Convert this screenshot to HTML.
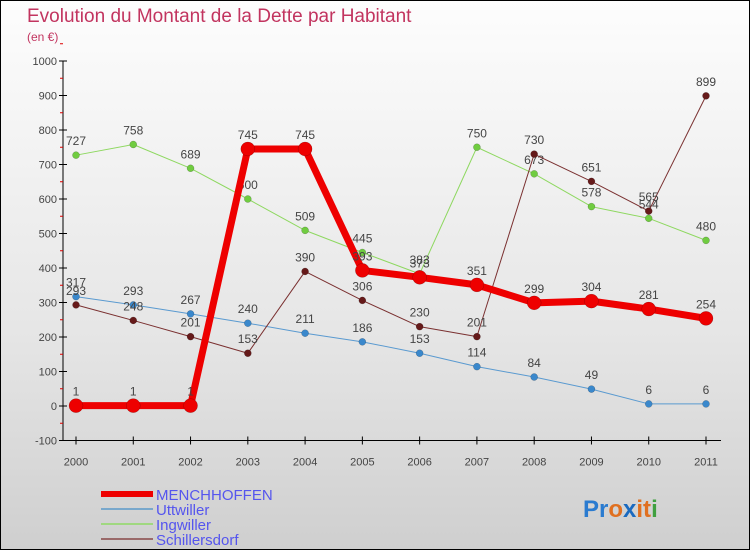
<!DOCTYPE html>
<html><head><meta charset="utf-8"><style>
body{margin:0}
#c{width:750px;height:550px;position:relative;overflow:hidden;box-sizing:border-box;border:1px solid #000;background:linear-gradient(#fdfdfd,#e6e6e6 60%,#cfcfcf);font-family:"Liberation Sans",sans-serif}
</style></head><body>
<div id="c">
<svg id="s" width="750" height="550" style="position:absolute;left:0;top:0">
<text x="26" y="21" font-size="19" fill="#c2345f">Evolution du Montant de la Dette par Habitant</text>
<text x="26" y="40" font-size="12" fill="#c2345f">(en €)</text>
<g id="ax"></g><g id="ser"></g>
<g>
<line x1="100" y1="493" x2="152" y2="493" stroke="#ee0000" stroke-width="6"/>
<text x="155" y="499" font-size="15" fill="#5555ee">MENCHHOFFEN</text>
<line x1="100" y1="508" x2="152" y2="508" stroke="#79a8cc" stroke-width="2"/>
<text x="155" y="514" font-size="15" fill="#5555ee">Uttwiller</text>
<line x1="100" y1="523" x2="152" y2="523" stroke="#a0d880" stroke-width="2"/>
<text x="155" y="529" font-size="15" fill="#5555ee">Ingwiller</text>
<line x1="100" y1="538" x2="152" y2="538" stroke="#9a6a6a" stroke-width="2"/>
<text x="155" y="544" font-size="15" fill="#5555ee">Schillersdorf</text>
</g>
<text x="582" y="516" font-size="24" font-weight="bold"><tspan fill="#2a7bd0">Pr</tspan><tspan fill="#e07020">o</tspan><tspan fill="#1a6ac0">x</tspan><tspan fill="#e07020">it</tspan><tspan fill="#40a040">i</tspan></text>
</svg>
</div>
<script>
const years=["2000","2001","2002","2003","2004","2005","2006","2007","2008","2009","2010","2011"];
const yTicks=[-100,0,100,200,300,400,500,600,700,800,900,1000];
const menchhoffen=[1,1,1,745,745,393,373,351,299,304,281,254];
const uttwiller=[317,293,267,240,211,186,153,114,84,49,6,6];
const ingwiller=[727,758,689,600,509,445,383,750,673,578,544,480];
const schillersdorf=[293,248,201,153,390,306,230,201,730,651,565,899];
const NS="http://www.w3.org/2000/svg";
function X(i){return 75+i*(705-75)/(years.length-1);}
function Y(v){return 405-v*0.345;}
function mk(t,a,p){const e=document.createElementNS(NS,t);for(const k in a)e.setAttribute(k,a[k]);p.appendChild(e);return e;}
const ax=document.getElementById('ax');
const yl=mk('line',{x1:62,y1:Y(1000),x2:62,y2:Y(-100),stroke:'#000'},ax);


yTicks.forEach(v=>{
 mk('line',{x1:58,y1:Y(v),x2:66,y2:Y(v),stroke:'#000'},ax);
 mk('line',{x1:59,y1:Y(v+50),x2:62,y2:Y(v+50),stroke:'#d00'},ax);
 const t=mk('text',{x:56,y:Y(v)+4,'font-size':11,fill:'#444','text-anchor':'end'},ax);t.textContent=v;
 
 
});
const xl=mk('line',{x1:62,y1:Y(-100),x2:720,y2:Y(-100),stroke:'#000'},ax);


years.forEach((y,i)=>{
 mk('line',{x1:X(i),y1:Y(-100)-4,x2:X(i),y2:Y(-100)+4,stroke:'#000'},ax);
 const t=mk('text',{x:X(i),y:Y(-100)+25,'font-size':11,fill:'#444','text-anchor':'middle'},ax);t.textContent=y;
 
 
});
const ser=document.getElementById('ser');
function draw(data,name,col,w,r,dot){
 const g=mk('g',{},ser);
 
 
 const pl=mk('polyline',{points:data.map((v,i)=>X(i)+','+Y(v)).join(' '),fill:'none',stroke:col,'stroke-width':w,'stroke-linejoin':'round'},g);
 
 
 data.forEach((v,i)=>{
  const c=mk('circle',{cx:X(i),cy:Y(v),r:r,fill:dot,stroke:'rgba(0,0,0,0.3)','stroke-width':0.5},g);
  
  
  const t=mk('text',{x:X(i),y:Y(v)-10,'font-size':12,fill:'#444','text-anchor':'middle'},g);t.textContent=v;
  
  
 });
}
draw(uttwiller,'uttwiller','#5a9ad0',1,3.5,'#3a88cc');
draw(ingwiller,'ingwiller','#8ed860',1,3.5,'#70cc40');
draw(schillersdorf,'schillersdorf','#7a3030',1,3.5,'#661a1a');
draw(menchhoffen,'menchhoffen','#ee0000',7,7,'#ee0000');
</script>
</body></html>
